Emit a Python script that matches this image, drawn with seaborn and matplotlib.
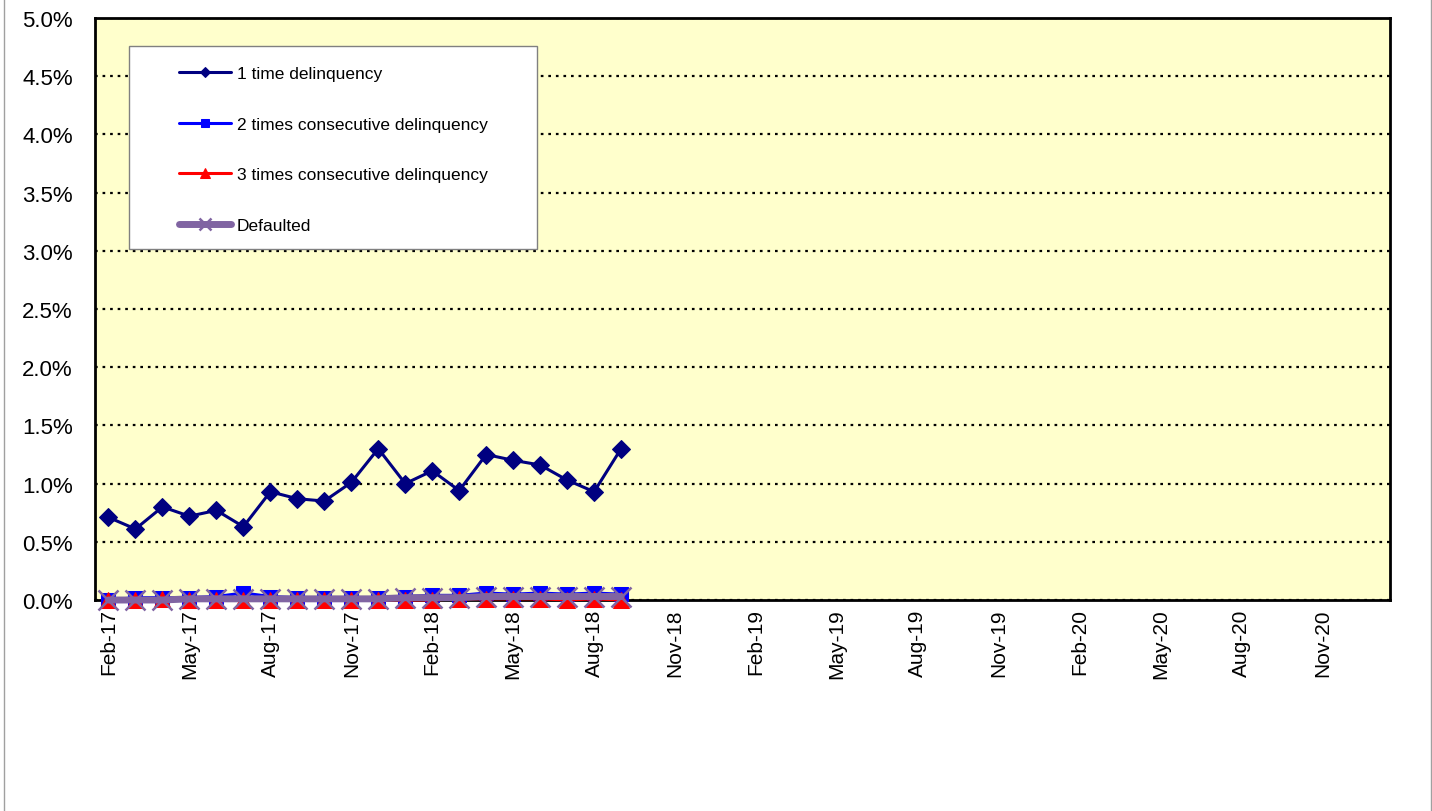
import numpy as np
import pandas as pd
import matplotlib
matplotlib.use("Agg")
import matplotlib.pyplot as plt
import seaborn as sns
from matplotlib.patches import Rectangle
from matplotlib.lines import Line2D
from matplotlib.ticker import PercentFormatter

# months on the category axis: Feb-17 .. Jan-21
months = pd.date_range("2017-02-01", "2021-01-01", freq="MS").strftime("%b-%y").tolist()

# values in percent, Feb-17 .. Sep-18
one_time = [0.71, 0.61, 0.80, 0.72, 0.77, 0.63, 0.93, 0.87, 0.85, 1.01,
            1.30, 1.00, 1.11, 0.94, 1.25, 1.20, 1.16, 1.03, 0.93, 1.30]
two_times = [0.00, 0.02, 0.02, 0.02, 0.03, 0.06, 0.03, 0.02, 0.02, 0.02,
             0.02, 0.03, 0.04, 0.04, 0.06, 0.05, 0.06, 0.05, 0.06, 0.05]
three_times = [0.00, 0.00, 0.01, 0.00, 0.00, 0.00, 0.00, 0.00, 0.00, 0.00,
               0.00, 0.00, 0.00, 0.01, 0.01, 0.01, 0.01, 0.00, 0.01, 0.00]
defaulted = [0.00, 0.00, 0.00, 0.01, 0.01, 0.01, 0.01, 0.01, 0.01, 0.01,
             0.01, 0.02, 0.02, 0.02, 0.03, 0.03, 0.03, 0.03, 0.03, 0.03]

sns.set_style("white")
plt.rcParams["font.family"] = ["Liberation Sans", "DejaVu Sans"]
plt.rcParams["text.color"] = "black"
plt.rcParams["xtick.color"] = "black"
plt.rcParams["ytick.color"] = "black"

fig = plt.figure(figsize=(14.32, 8.12), dpi=100)
ax = fig.add_axes([95 / 1432, 1 - 601 / 812, 1295 / 1432, 582 / 812])
ax.set_facecolor("#FFFFCC")

x = np.arange(len(one_time))
sns.lineplot(x=x, y=one_time, ax=ax, color="#000080", marker="D", markersize=9,
             markeredgecolor="#000080", linewidth=2.2, label="1 time delinquency",
             zorder=5, clip_on=False)
sns.lineplot(x=x, y=two_times, ax=ax, color="#0000FF", marker="s", markersize=10,
             markeredgecolor="#0000FF", linewidth=2.2, label="2 times consecutive delinquency",
             zorder=5, clip_on=False)
sns.lineplot(x=x, y=three_times, ax=ax, color="#FF0000", marker="^", markersize=11,
             markeredgecolor="#FF0000", linewidth=2.2, label="3 times consecutive delinquency",
             zorder=5, clip_on=False)
sns.lineplot(x=x, y=defaulted, ax=ax, color="#8064A2", marker="x", markersize=14,
             markeredgecolor="#8064A2", markeredgewidth=1.8, linewidth=5, label="Defaulted",
             zorder=6, clip_on=False)

ax.set_xlim(-0.5, len(months) - 0.5)
ax.set_ylim(0, 5)
ax.set_yticks(np.arange(0, 5.01, 0.5))
ax.yaxis.set_major_formatter(PercentFormatter(decimals=1))
ax.set_xticks(np.arange(0, len(months), 3))
ax.set_xticklabels(months[::3], rotation=90)
ax.tick_params(axis="y", labelsize=16, length=0, pad=16, labelcolor="black")
ax.tick_params(axis="x", labelsize=15, length=0, pad=6, labelcolor="black")
ax.grid(axis="y", color="black", linestyle=(0, (1.2, 2.2)), linewidth=1.6)
ax.set_axisbelow(True)
for s in ax.spines.values():
    s.set_visible(True)
    s.set_color("black")
    s.set_linewidth(2)

# legend box
ax.add_patch(Rectangle((34 / 1295, (601 - 250) / 582), 408 / 1295, 203 / 582,
                       transform=ax.transAxes, facecolor="white", edgecolor="#808080",
                       linewidth=1, zorder=7))
handles, labels = ax.get_legend_handles_labels()
leg = ax.legend(handles, labels, loc="upper left", bbox_to_anchor=(75 / 1295, (601 - 58) / 582),
                frameon=False, fontsize=12.5, labelspacing=2.05, handlelength=3.0,
                handletextpad=0.35, borderpad=0, markerscale=0.6, labelcolor="black")
leg.set_zorder(8)

# chart area border
fig.add_artist(Line2D([4 / 1432, 4 / 1432], [0, 1], color="#A0A0A0", linewidth=1))
fig.add_artist(Line2D([1431 / 1432, 1431 / 1432], [0, 1], color="#A0A0A0", linewidth=1))

plt.savefig("out.png", dpi=100)
